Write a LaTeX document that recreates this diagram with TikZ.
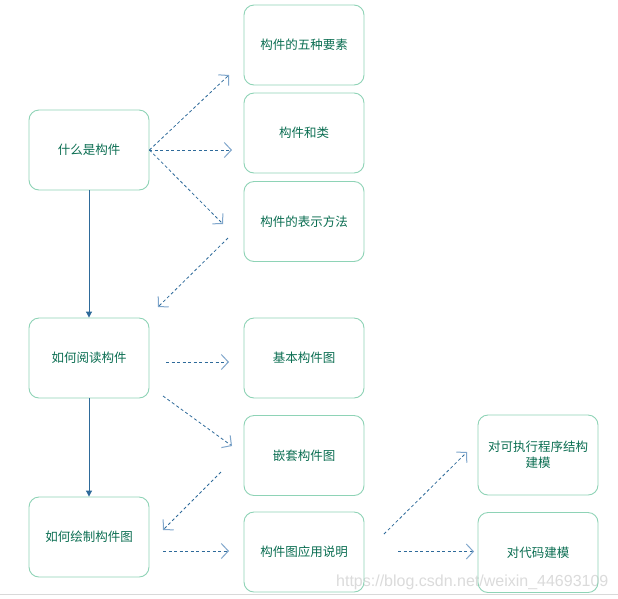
\documentclass[tikz,border=0pt]{standalone}
\usepackage{fontspec}
\newfontfamily\cjk{Noto Sans CJK SC}
\newfontfamily\wm{Liberation Sans}
\usetikzlibrary{arrows.meta}
\definecolor{boxline}{HTML}{8ED3B6}
\definecolor{boxtext}{HTML}{0B6E52}
\definecolor{arr}{HTML}{2E6A9A}
\definecolor{arrhead}{HTML}{7FA6CC}
\tikzset{
  box/.style={draw=boxline, line width=0.9pt, rounded corners=10pt, minimum width=120pt, minimum height=80pt, inner sep=0pt, align=center, text=boxtext, font=\cjk\fontsize{12.5}{16}\selectfont},
  dashedarrow/.style={draw=arr, line width=0.8pt, dash pattern=on 3pt off 2.5pt, -{Straight Barb[length=7pt,width=15pt,line width=1pt,color=arrhead]}},
  solidarrow/.style={draw=arr, line width=1pt, -{Triangle[length=6pt,width=6pt]}}
}
\begin{document}
\begin{tikzpicture}[x=1pt,y=-1pt]
\useasboundingbox (0,0) rectangle (618,598);
\fill[white] (0,0) rectangle (618,598);
% bottom line
\draw[gray!30, line width=1pt] (0,594.5) -- (618,594.5);
% watermark
\node[text=black!14, font=\wm\fontsize{16}{19}\selectfont, anchor=base west, inner sep=0pt] (wm) at (336,586) {https://blog.csdn.net/weixin\_44693109};
% boxes
\node[box] (what) at (89,150) {什么是构件};
\node[box] (read) at (89,358) {如何阅读构件};
\node[box] (draw) at (89,537) {如何绘制构件图};
\node[box] (five) at (304,45) {构件的五种要素};
\node[box] (cls) at (304,133) {构件和类};
\node[box] (rep) at (304,221.5) {构件的表示方法};
\node[box] (basic) at (304,358) {基本构件图};
\node[box] (nest) at (304,455.5) {嵌套构件图};
\node[box] (app) at (304,552) {构件图应用说明};
\node[box] (exe) at (538,455) {对可执行程序结构\\建模};
\node[box] (code) at (538,552.5) {对代码建模};
% connector end points
\coordinate (a1e) at (229,75);
\coordinate (a2e) at (232,150);
\coordinate (a3e) at (223,224);
\coordinate (a4s) at (228,238);
\coordinate (a4e) at (158,307);
\coordinate (a7s) at (166,362);
\coordinate (a7e) at (229,362);
\coordinate (a8s) at (163,396);
\coordinate (a8e) at (232,446);
\coordinate (a9s) at (221,472);
\coordinate (a9e) at (163,530);
\coordinate (a10s) at (163,551);
\coordinate (a10e) at (229,551);
\coordinate (a11s) at (384,534);
\coordinate (a11e) at (467,452);
\coordinate (a12s) at (398,551.5);
\coordinate (a12e) at (474,551.5);
% arrows
\draw[dashedarrow] (what.east) -- (a1e);
\draw[dashedarrow] (what.east) -- (a2e);
\draw[dashedarrow] (what.east) -- (a3e);
\draw[dashedarrow] (a4s) -- (a4e);
\draw[solidarrow] (what.south) -- (read.north);
\draw[solidarrow] (read.south) -- (draw.north);
\draw[dashedarrow] (a7s) -- (a7e);
\draw[dashedarrow] (a8s) -- (a8e);
\draw[dashedarrow] (a9s) -- (a9e);
\draw[dashedarrow] (a10s) -- (a10e);
\draw[dashedarrow] (a11s) -- (a11e);
\draw[dashedarrow] (a12s) -- (a12e);
\end{tikzpicture}
\end{document}
